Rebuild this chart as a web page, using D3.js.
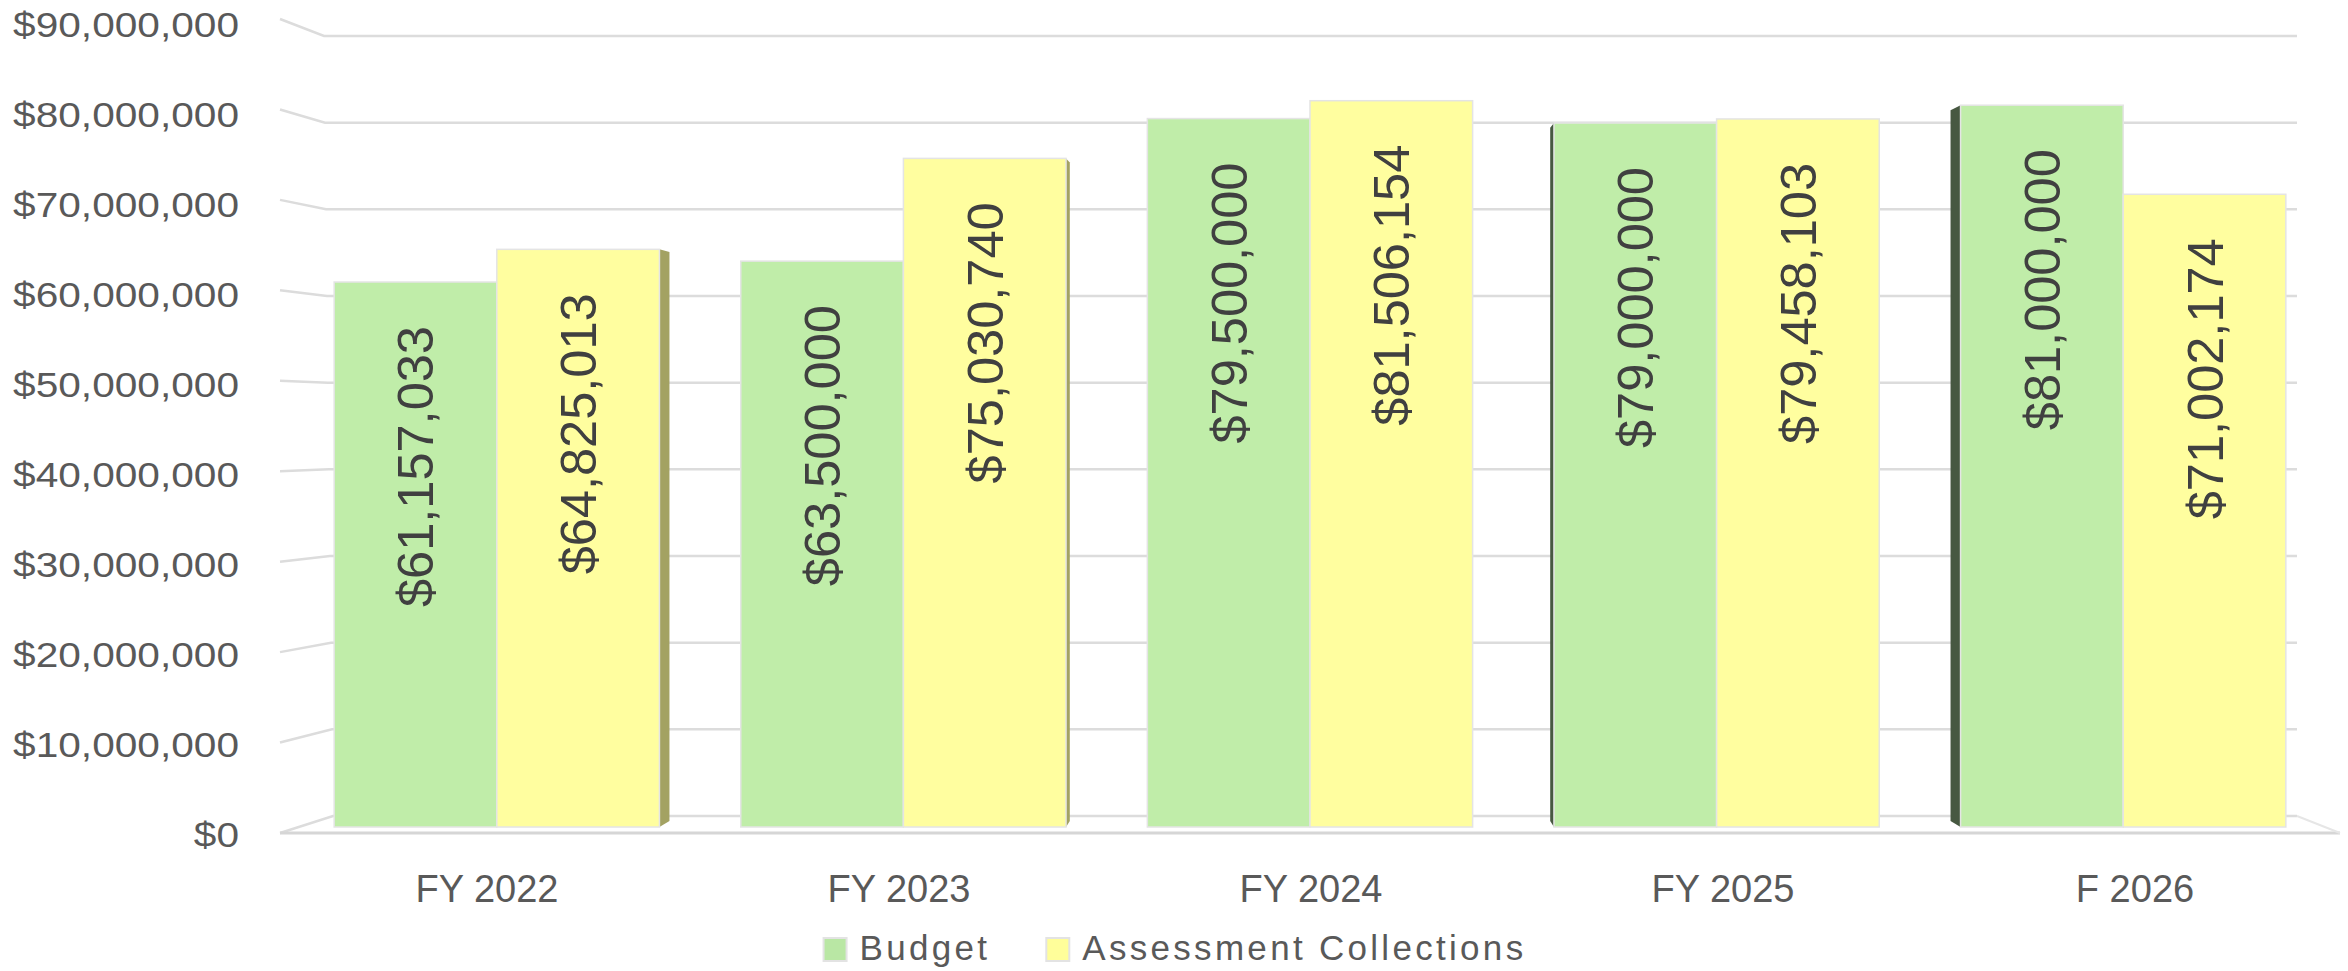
<!DOCTYPE html>
<html>
<head>
<meta charset="utf-8">
<script src="https://cdn.jsdelivr.net/npm/d3@7"></script>
<style>
  html, body { margin: 0; padding: 0; background: #fff; }
  svg { display: block; font-family: "Liberation Sans", Arial, sans-serif; }
</style>
</head>
<body>
<div id="chart"></div>
<script>
// data
var categories = ["FY 2022", "FY 2023", "FY 2024", "FY 2025", "F 2026"];
var seriesNames = ["Budget", "Assessment Collections"];
var budget = [61157033, 63500000, 79500000, 79000000, 81000000];
var collections = [64825013, 75030740, 81506154, 79458103, 71002174];
var yTicks = [0, 10000000, 20000000, 30000000, 40000000, 50000000, 60000000, 70000000, 80000000, 90000000];

var width = 2348, height = 971;
var colors = { "Budget": "#c0eda9", "Assessment Collections": "#fffe9f" };
var sideColors = { "Budget": "#475841", "Assessment Collections": "#a3a262" };
var swatchColors = { "Budget": "#b9e7a4", "Assessment Collections": "#fffe9a" };
var fmt = d3.format("$,.0f");

var rows = categories.map(function(c, i) {
  return { cat: c, values: [
    { series: seriesNames[0], value: budget[i] },
    { series: seriesNames[1], value: collections[i] }
  ]};
});

var svg = d3.select("#chart").append("svg")
  .attr("width", width)
  .attr("height", height);

// 3d-ish chart: back wall, front edge and bar plane each get their own vertical scale
var yMax = 90000000;
var yBack = d3.scaleLinear().domain([0, yMax]).range([816, 36]);
var yFront = d3.scaleLinear().domain([0, yMax]).range([833, 19]);
var yLabel = d3.scaleLinear().domain([0, yMax]).range([834, 24]);
var yBar = d3.scaleLinear().domain([0, yMax]).range([827, 25]);
var xBackLeft = d3.scaleLinear().domain([0, yMax]).range([333, 324]);
var xFrontLeft = 280, xBackRight = 2297, xFrontRight = 2340;

var x0 = d3.scaleBand().domain(categories).range([293.5, 2326.5]).paddingInner(0.2).paddingOuter(0.1);
var x1 = d3.scaleBand().domain(seriesNames).range([0, x0.bandwidth()]);
var xCat = d3.scalePoint().domain(categories).range([487, 2135]);

// vanishing point for the side faces
var vx = (x0.range()[0] + x0.range()[1]) / 2, vy = 430, depth = 0.0154;

// gridlines (left wall slant + back wall)
var grid = svg.append("g");
grid.selectAll("path.grid")
  .data(yTicks)
  .enter().append("path")
    .attr("class", "grid")
    .attr("fill", "none")
    .attr("stroke", "#dcdcdc")
    .attr("stroke-width", 2.5)
    .attr("d", function(d) {
      return "M" + xFrontLeft + "," + yFront(d) +
        "L" + xBackLeft(d) + "," + yBack(d) +
        "L" + xBackRight + "," + yBack(d);
    });

// floor front edge
grid.append("path")
  .attr("fill", "none")
  .attr("stroke", "#d6d6d6")
  .attr("stroke-width", 3)
  .attr("d", "M" + xFrontLeft + "," + yFront(0) + "L" + xFrontRight + "," + yFront(0));
grid.append("path")
  .attr("fill", "none")
  .attr("stroke", "#e6e6e6")
  .attr("stroke-width", 2)
  .attr("d", "M" + xFrontRight + "," + yFront(0) + "L" + xBackRight + "," + yBack(0));

// y axis labels, stretched so "$90,000,000" is as wide as in the picture
var yLab = svg.append("g")
  .selectAll("text")
  .data(yTicks)
  .enter().append("text")
    .attr("text-anchor", "end")
    .attr("font-size", 36)
    .attr("fill", "#595959")
    .text(function(d) { return fmt(d); });
var widest = d3.max(yLab.nodes(), function(n) { return n.getComputedTextLength(); });
var ySx = 226 / widest;
yLab.attr("transform", function(d) {
  return "translate(239," + (yLabel(d) + 13) + ") scale(" + ySx + ",1)";
});

// bars
var groups = svg.append("g")
  .selectAll("g")
  .data(rows)
  .enter().append("g")
    .attr("transform", function(d) { return "translate(" + x0(d.cat) + ",0)"; });

function sidePoints(d, gx) {
  var xl = gx + x1(d.series), xr = xl + x1.bandwidth();
  var edge = null;
  if (d.series === seriesNames[0] && xl > vx) edge = xl;
  if (d.series === seriesNames[1] && xr < vx) edge = xr;
  if (edge === null) return null;
  var top = yBar(d.value), bot = yBar(0);
  var dx = depth * (vx - edge);
  return [
    [edge - gx, top],
    [edge - gx + dx, top + depth * (vy - top)],
    [edge - gx + dx, bot + depth * (vy - bot)],
    [edge - gx, bot]
  ];
}

groups.each(function(row) {
  var g = d3.select(this);
  var gx = x0(row.cat);
  g.selectAll("polygon")
    .data(row.values.filter(function(d) { return sidePoints(d, gx); }))
    .enter().append("polygon")
      .attr("fill", function(d) { return sideColors[d.series]; })
      .attr("points", function(d) { return sidePoints(d, gx).join(" "); });
});

groups.selectAll("rect")
  .data(function(d) { return d.values; })
  .enter().append("rect")
    .attr("x", function(d) { return x1(d.series); })
    .attr("y", function(d) { return yBar(d.value); })
    .attr("width", x1.bandwidth())
    .attr("height", function(d) { return yBar(0) - yBar(d.value); })
    .attr("fill", function(d) { return colors[d.series]; })
    .attr("stroke", "#e4e4e4")
    .attr("stroke-width", 1.5);

// value labels, rotated, near the bar top
groups.selectAll("text.val")
  .data(function(d) { return d.values; })
  .enter().append("text")
    .attr("class", "val")
    .attr("transform", function(d) {
      return "translate(" + (x1(d.series) + x1.bandwidth() / 2 + 18) + "," + (yBar(d.value) + 44) + ") rotate(-90)";
    })
    .attr("text-anchor", "end")
    .attr("font-size", 50)
    .attr("textLength", 281)
    .attr("lengthAdjust", "spacingAndGlyphs")
    .attr("fill", "#404040")
    .text(function(d) { return fmt(d.value); });

// category labels
svg.append("g")
  .selectAll("text")
  .data(categories)
  .enter().append("text")
    .attr("x", function(d) { return xCat(d); })
    .attr("y", 902)
    .attr("text-anchor", "middle")
    .attr("font-size", 38)
    .attr("fill", "#595959")
    .text(function(d) { return d; });

// legend, centred on the page
var legend = svg.append("g");
var lx = 0;
seriesNames.forEach(function(s, i) {
  var item = legend.append("g").attr("transform", "translate(" + lx + ",0)");
  item.append("rect")
    .attr("x", 1).attr("y", 938)
    .attr("width", 23).attr("height", 23)
    .attr("fill", swatchColors[s])
    .attr("stroke", "#e3e3e3")
    .attr("stroke-width", 2);
  var t = item.append("text")
    .attr("x", 37).attr("y", 960)
    .attr("font-size", 35)
    .attr("letter-spacing", 3.3)
    .attr("fill", "#595959")
    .text(s);
  lx += 37 + t.node().getComputedTextLength() + 55;
});
var lw = legend.node().getBBox().width;
legend.attr("transform", "translate(" + (width / 2 - lw / 2) + ",0)");
</script>
</body>
</html>
